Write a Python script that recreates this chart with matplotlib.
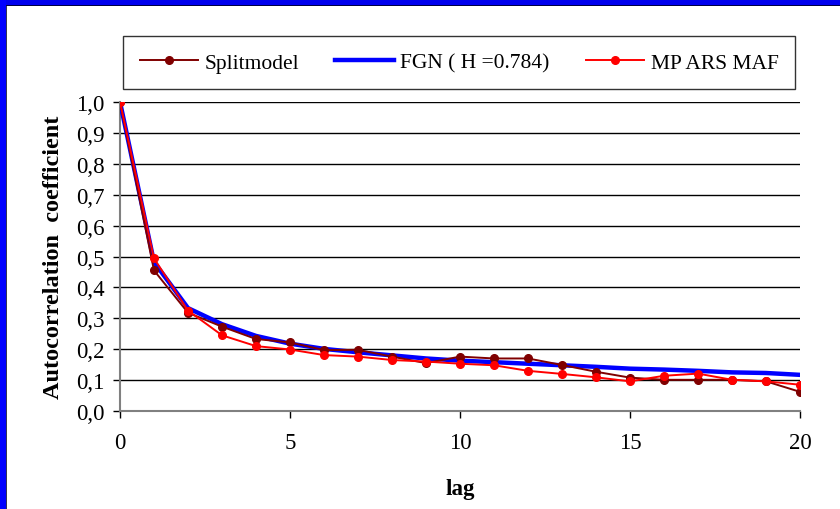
import matplotlib.pyplot as plt
from matplotlib.patches import Rectangle
from matplotlib.ticker import FuncFormatter

lags = list(range(21))
splitmodel = [1.0, 0.455, 0.318, 0.273, 0.233, 0.222, 0.197, 0.198, 0.176, 0.155, 0.176,
              0.170, 0.170, 0.149, 0.127, 0.108, 0.101, 0.101, 0.101, 0.096, 0.062]
fgn = [1.0, 0.482, 0.333, 0.281, 0.243, 0.218, 0.201, 0.190, 0.180, 0.170, 0.163,
       0.158, 0.153, 0.148, 0.143, 0.137, 0.134, 0.130, 0.125, 0.123, 0.117]
mparsmaf = [1.0, 0.494, 0.325, 0.245, 0.210, 0.199, 0.181, 0.176, 0.165, 0.160, 0.153,
            0.148, 0.130, 0.120, 0.109, 0.096, 0.114, 0.121, 0.101, 0.096, 0.085]
labels = ['Splitmodel', 'FGN ( H =0.784)', 'MP ARS MAF']

plt.rcParams['font.family'] = ['Liberation Serif', 'DejaVu Serif']

fig = plt.figure(figsize=(8.4, 5.1), dpi=100)
# blue frame on top and left edges
fig.patches.append(Rectangle((0, 1 - 6/510), 1, 6/510, transform=fig.transFigure,
                             facecolor='#0000EE', edgecolor='none', zorder=0))
fig.patches.append(Rectangle((0, 0), 6/840, 1, transform=fig.transFigure,
                             facecolor='#0000FF', edgecolor='none', zorder=0))
fig.patches.append(Rectangle((6/840, 0), 1.2/840, 1 - 6/510, transform=fig.transFigure,
                             facecolor='#333355', edgecolor='none', zorder=0))
fig.patches.append(Rectangle((6/840, 1 - 7.2/510), 1 - 6/840, 1.2/510, transform=fig.transFigure,
                             facecolor='#000044', edgecolor='none', zorder=0))

ax = fig.add_axes([120/840, 1 - 412/510, 680/840, 309/510])

ax.plot(lags, fgn, color='#0000FF', lw=3.2, label=labels[1], zorder=3)
ax.plot(lags, splitmodel, color='#800000', lw=1.4, marker='o', ms=5.5, label=labels[0], zorder=4)
ax.plot(lags, mparsmaf, color='#FF0000', lw=1.4, marker='o', ms=5.5, label=labels[2], zorder=5)

ax.set_xlim(0, 20)
ax.set_ylim(0, 1.0)
ax.set_xticks([0, 5, 10, 15, 20])
ax.set_yticks([i / 10 for i in range(11)])
ax.yaxis.set_major_formatter(FuncFormatter(lambda v, p: ('%.1f' % v).replace('.', ',')))
ax.grid(axis='y', color='black', lw=1)
ax.set_axisbelow(True)
for s in ['top', 'right']:
    ax.spines[s].set_visible(False)
for s in ['left', 'bottom']:
    ax.spines[s].set_color('#808080')
    ax.spines[s].set_linewidth(1.5)
ax.tick_params(axis='both', direction='out', length=5, width=1, color='black', labelsize=16.5)
ax.tick_params(axis='x', pad=10)
ax.tick_params(axis='y', pad=6)
for t in ax.get_yticklabels() + ax.get_xticklabels():
    t.set_clip_on(False)

ax.set_xlabel('lag', fontsize=16.5, fontweight='bold', labelpad=18)
ax.set_ylabel('Autocorrelation  coefficient', fontsize=17.5, fontweight='bold', labelpad=9)

h, l = ax.get_legend_handles_labels()
order = [1, 0, 2]
leg = fig.legend([h[i] for i in order], [l[i] for i in order], loc='center',
                 bbox_to_anchor=(459/840, 1 - 63.5/510), ncol=3, fontsize=15.5,
                 frameon=True, fancybox=False, edgecolor='black', handlelength=2.7,
                 columnspacing=1.7, handletextpad=0.3, borderpad=0.75)
leg.get_frame().set_linewidth(1.0)

fig.savefig('out.png', dpi=100, facecolor='white')
